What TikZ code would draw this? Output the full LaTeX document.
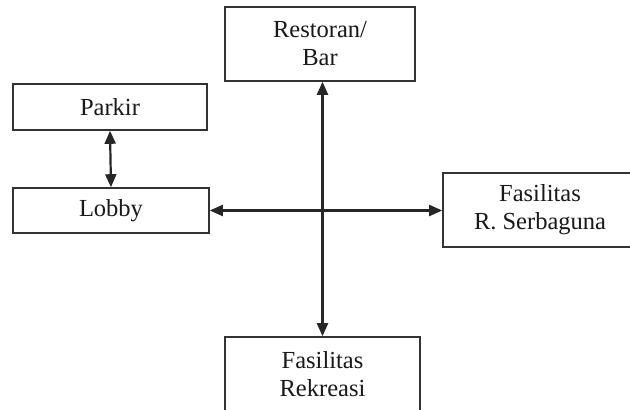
\documentclass[tikz,border=0pt]{standalone}
\usepackage{fontspec}
\setmainfont{Liberation Serif}
\usetikzlibrary{arrows.meta}
\begin{document}
\begin{tikzpicture}[x=1pt,y=-1pt,
  box/.style={draw=black!80, line width=1.6pt, rectangle, inner sep=0pt,
    align=center, text=black!90, font=\fontsize{24.5}{28}\selectfont},
  link/.style={line width=2.2pt, draw=black!85,
    {Triangle[length=13pt,width=11pt]}-{Triangle[length=13pt,width=11pt]}}]
  \useasboundingbox (0,0) rectangle (630,410);
  \clip (0,0) rectangle (630,410);
  \fill[white] (0,0) rectangle (630,410);
  % boxes
  \node[box, minimum width=194pt, minimum height=46pt] (parkir) at (110,107) {Parkir};
  \node[box, minimum width=196pt, minimum height=45pt] (lobby) at (111,210.5) {Lobby};
  \node[box, minimum width=190pt, minimum height=74pt] (resto) at (320,44) {Restoran/\\Bar};
  \node[box, minimum width=194pt, minimum height=74pt] (serba) at (540,210) {Fasilitas\\R. Serbaguna};
  \node[box, minimum width=195pt, minimum height=75pt] (rekre) at (322.5,374.5) {Fasilitas\\Rekreasi};
  % connectors
  \draw[link] (parkir.south) -- (lobby.north);
  \draw[link] (lobby.east) -- (lobby.east -| serba.west);
  \draw[link] (resto.south -| rekre.north) -- (rekre.north);
\end{tikzpicture}
\end{document}
